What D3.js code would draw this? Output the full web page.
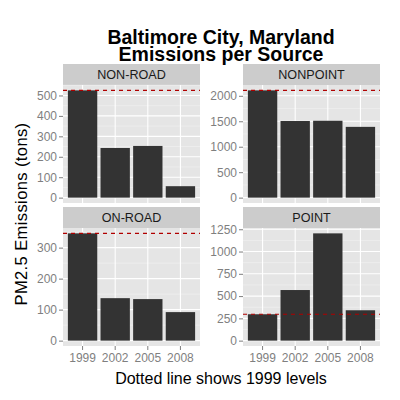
<!DOCTYPE html>
<html><head><meta charset="utf-8">
<script src="https://cdn.jsdelivr.net/npm/d3@7"></script>
<style>body{margin:0;background:#fff}svg{display:block;font-family:"Liberation Sans",Arial,sans-serif}</style>
</head><body><svg width="400" height="400"></svg>
<script>
const years = ["1999","2002","2005","2008"];
const sources = ["NON-ROAD","NONPOINT","ON-ROAD","POINT"];
const nonRoad = [525, 243, 253, 56];
const nonPoint = [2107, 1505, 1510, 1390];
const onRoad = [346, 137, 134, 92];
const pointSrc = [296, 568, 1204, 341];
const yTicksNonRoad = [0,100,200,300,400,500];
const yTicksNonPoint = [0,500,1000,1500,2000];
const yTicksOnRoad = [0,100,200,300];
const yTicksPoint = [0,250,500,750,1000,1250];

const series = [nonRoad, nonPoint, onRoad, pointSrc];
const tickSets = [yTicksNonRoad, yTicksNonPoint, yTicksOnRoad, yTicksPoint];

const svg = d3.select("svg");
const colX = [63, 243], pw = 137;
const rowStrip = [64, 207], stripH = 21, ph = 118;

sources.forEach((name, i) => {
  const col = i % 2, row = Math.floor(i / 2);
  const x0 = colX[col], s0 = rowStrip[row], y0 = s0 + stripH;
  const vals = series[i];
  const maxV = d3.max(vals);
  const y = d3.scaleLinear().domain([-0.05*maxV, 1.05*maxV]).range([y0+ph, y0]);
  const x = d3.scaleBand().domain(years).range([x0, x0+pw]).paddingInner(0.1).paddingOuter(0.15);
  svg.append("rect").attr("x", x0).attr("y", s0).attr("width", pw).attr("height", stripH).attr("fill", "#CCCCCC");
  svg.append("text").attr("x", x0+pw/2).attr("y", s0+stripH/2).attr("dy","0.36em")
    .attr("text-anchor","middle").attr("font-size","12.6px").attr("fill","#1A1A1A").text(name);
  const g = svg.append("g");
  g.append("rect").attr("x", x0).attr("y", y0).attr("width", pw).attr("height", ph).attr("fill", "#E5E5E5");
  const ticks = tickSets[i];
  const step = ticks[1]-ticks[0];
  const [d0, d1] = y.domain();
  const minors = [];
  for (let t = ticks[0]-step/2; t <= ticks[ticks.length-1]+step; t += step) if (t > d0 && t < d1) minors.push(t);
  g.selectAll(null).data(minors).join("line").attr("x1", x0).attr("x2", x0+pw)
    .attr("y1", d=>y(d)).attr("y2", d=>y(d)).attr("stroke","#F2F2F2").attr("stroke-width",0.6);
  g.selectAll(null).data(ticks).join("line").attr("x1", x0).attr("x2", x0+pw)
    .attr("y1", d=>y(d)).attr("y2", d=>y(d)).attr("stroke","#FFFFFF").attr("stroke-width",1.1);
  g.selectAll(null).data(years).join("line").attr("y1", y0).attr("y2", y0+ph)
    .attr("x1", d=>x(d)+x.bandwidth()/2).attr("x2", d=>x(d)+x.bandwidth()/2).attr("stroke","#FFFFFF").attr("stroke-width",1.1);
  g.selectAll(null).data(years).join("rect")
    .attr("x", d=>x(d)).attr("width", x.bandwidth())
    .attr("y", (d,j)=>y(vals[j])).attr("height", (d,j)=>y(0)-y(vals[j]))
    .attr("fill", "#333333");
  g.append("line").attr("x1", x0).attr("x2", x0+pw).attr("y1", y(vals[0])).attr("y2", y(vals[0]))
    .attr("stroke","#B00000").attr("stroke-width",1.1).attr("stroke-dasharray","4,4");
  const ya = svg.append("g").attr("transform", `translate(${x0},0)`)
    .call(d3.axisLeft(y).tickValues(ticks).tickFormat(d3.format("d")).tickSize(4).tickPadding(2));
  ya.select(".domain").remove();
  ya.selectAll(".tick line").attr("stroke","#7F7F7F");
  ya.selectAll(".tick text").attr("fill","#7F7F7F").attr("font-size","12px").attr("font-family","Liberation Sans, Arial, sans-serif");
  if (row === 1) {
    const xa = svg.append("g").attr("transform", `translate(0,${y0+ph})`)
      .call(d3.axisBottom(x).tickSize(4).tickPadding(3));
    xa.select(".domain").remove();
    xa.selectAll(".tick line").attr("stroke","#7F7F7F");
    xa.selectAll(".tick text").attr("fill","#7F7F7F").attr("font-size","12px").attr("font-family","Liberation Sans, Arial, sans-serif");
  }
});

const title = svg.append("text").attr("text-anchor","middle").attr("font-weight","bold").attr("font-size","19.5px").attr("fill","#000");
title.append("tspan").attr("x", 221).attr("y", 43.5).text("Baltimore City, Maryland");
title.append("tspan").attr("x", 221).attr("y", 60.5).text("Emissions per Source");
svg.append("text").attr("x", 221).attr("y", 384).attr("text-anchor","middle").attr("font-size","16px").attr("fill","#000").text("Dotted line shows 1999 levels");
svg.append("text").attr("transform","translate(26.5,214) rotate(-90)").attr("text-anchor","middle").attr("font-size","16.5px").attr("letter-spacing","0.4px").attr("fill","#000").text("PM2.5 Emissions (tons)");
</script></body></html>
